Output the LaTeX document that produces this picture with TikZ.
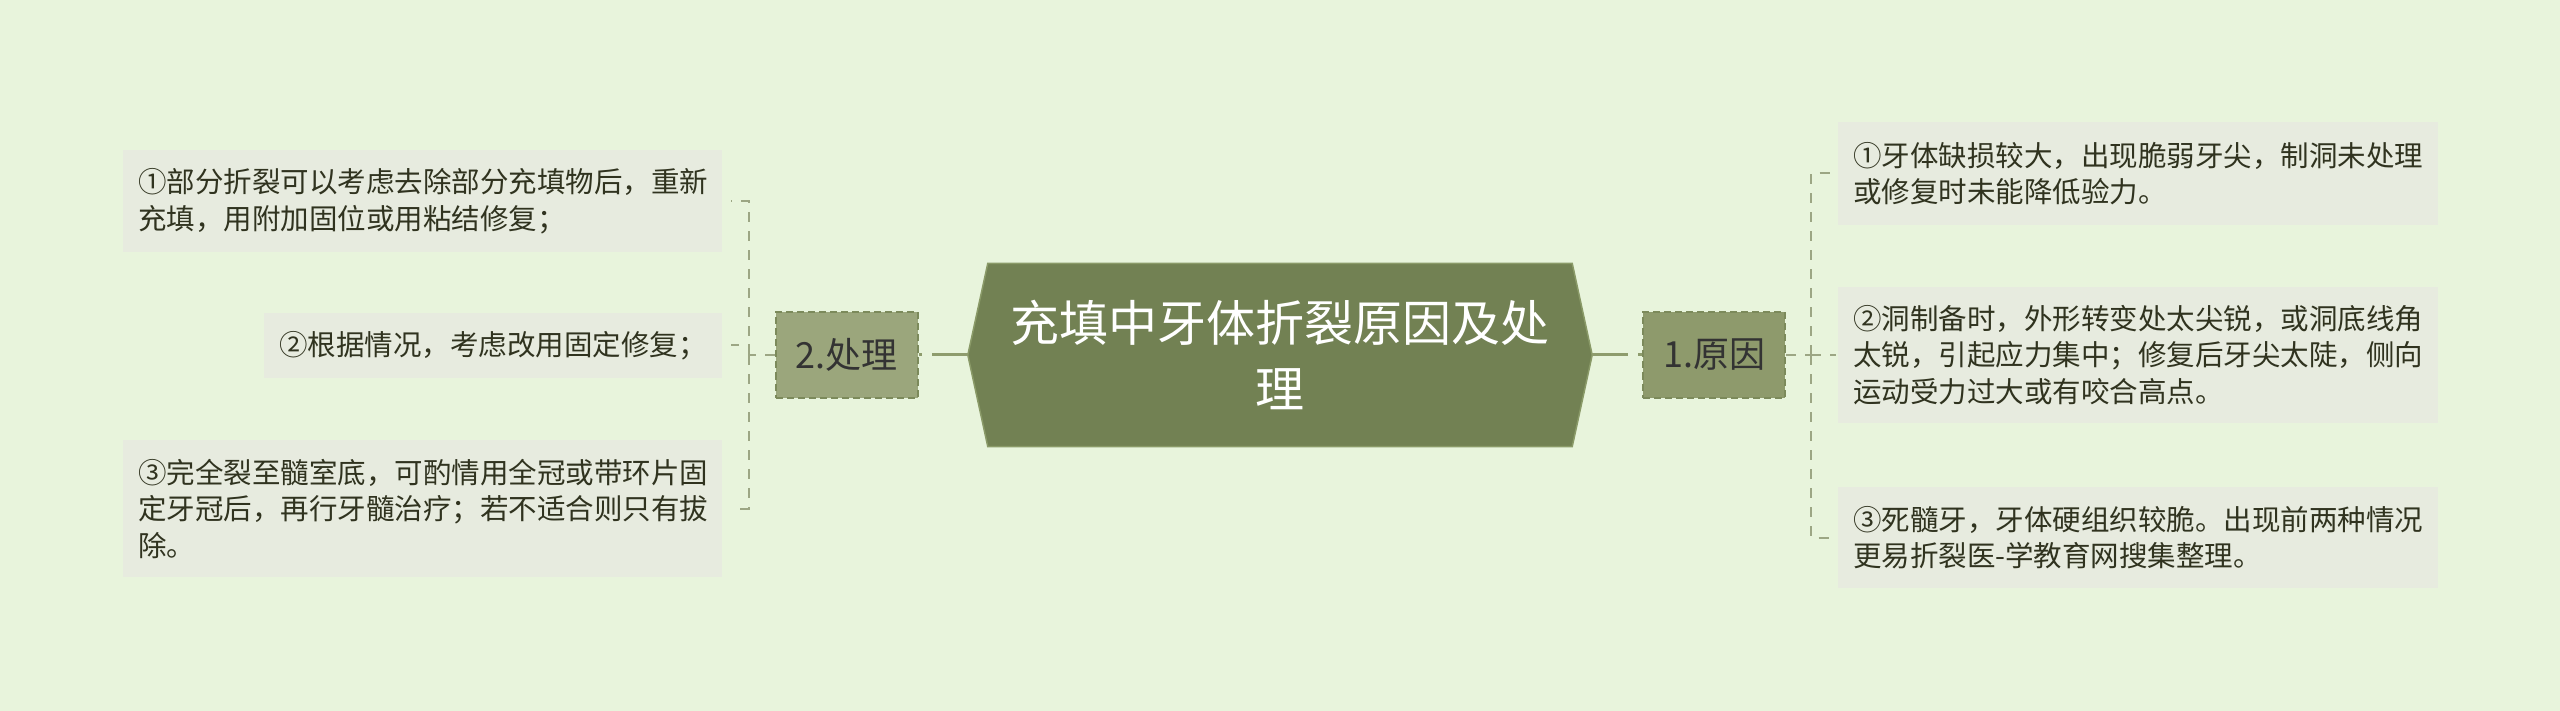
\documentclass[tikz,border=0pt]{standalone}
\usepackage{fontspec}
\setmainfont{Noto Sans CJK SC}
\usetikzlibrary{calc}
\definecolor{bg}{HTML}{E8F4DC}
\definecolor{cfill}{HTML}{728153}
\definecolor{cedge}{HTML}{8A9A68}
\definecolor{lfillA}{HTML}{9BA67C}
\definecolor{lfillB}{HTML}{8E9A6C}
\definecolor{ledge}{HTML}{7C8A5B}
\definecolor{kfill}{HTML}{E7EBDF}
\definecolor{ktext}{HTML}{30331F}
\definecolor{mainline}{HTML}{8E9C6D}
\definecolor{dline}{HTML}{9CA684}
\tikzset{
  central/.style={inner sep=0pt, minimum width=624pt, minimum height=183pt, text=white, align=center, font=\fontsize{49}{66}\selectfont},
  hexfill/.style={fill=cfill, draw=cedge, line width=1.5pt},
  levelbox/.style={draw=ledge, line width=2pt, dash pattern=on 7pt off 4pt, inner sep=0pt, minimum width=142pt, minimum height=85pt, text=black!80, font=\fontsize{36}{40}\selectfont},
  leafbox/.style={fill=kfill, inner xsep=15pt, inner ysep=0pt, align=left, text=ktext, font=\fontsize{28.5}{36.5}\selectfont},
  mainconn/.style={draw=mainline, line width=3pt, dash pattern=on 36pt off 10pt},
  dashconn/.style={draw=dline, line width=2pt, dash pattern=on 10pt off 9pt}
}
\begin{document}
\begin{tikzpicture}[x=1pt,y=-1pt]
\fill[bg] (0,0) rectangle (2560,711);
\useasboundingbox (0,0) rectangle (2560,711);

% central
\node[central] (c) at (1280,355) {};
\path[hexfill] ($(c.north west)+(20,0)$) -- ($(c.north east)+(-20,0)$) -- (c.east)
  -- ($(c.south east)+(-20,0)$) -- ($(c.south west)+(20,0)$) -- (c.west) -- cycle;
\node[central] at (1280,355) {充填中牙体折裂原因及处\\理};

% level 1
\node[levelbox, fill=lfillA] (p2) at (846.5,355) {2.处理};
\node[levelbox, fill=lfillB] (p1) at (1714,355) {1.原因};

% leaves left
\node[leafbox, text width=569pt, minimum height=102pt] (l1) at (422.5,201)
  {①部分折裂可以考虑去除部分充填物后，重新\\充填，用附加固位或用粘结修复；};
\node[leafbox, text width=428pt, minimum height=65pt] (l2) at (493,345.5)
  {②根据情况，考虑改用固定修复；};
\node[leafbox, text width=569pt, minimum height=137pt] (l3) at (422.5,508.5)
  {③完全裂至髓室底，可酌情用全冠或带环片固\\定牙冠后，再行牙髓治疗；若不适合则只有拔\\除。};

% leaves right
\node[leafbox, text width=570pt, minimum height=103pt] (r1) at (2138,173.5)
  {①牙体缺损较大，出现脆弱牙尖，制洞未处理\\或修复时未能降低验力。};
\node[leafbox, text width=570pt, minimum height=136pt] (r2) at (2138,355)
  {②洞制备时，外形转变处太尖锐，或洞底线角\\太锐，引起应力集中；修复后牙尖太陡，侧向\\运动受力过大或有咬合高点。};
\node[leafbox, text width=570pt, minimum height=101pt] (r3) at (2138,537.5)
  {③死髓牙，牙体硬组织较脆。出现前两种情况\\更易折裂医-学教育网搜集整理。};

% connectors main
\draw[mainconn] (c.west) -- (p2.east);
\draw[mainconn] (c.east) -- (p1.west);

% left tree
\draw[dashconn] (p2.west) -- ++(-26,0) coordinate (lj);
\draw[dashconn] (lj) |- ([xshift=9pt]l1.east);
\draw[dashconn] (lj) |- ([xshift=9pt]l2.east);
\draw[dashconn] (lj) |- ([xshift=9pt]l3.east);

% right tree
\draw[dashconn] (p1.east) -- ++(25,0) coordinate (rj);
\draw[dashconn] (rj) |- ([xshift=-2pt]r1.west);
\draw[dashconn] (rj) |- ([xshift=-2pt]r2.west);
\draw[dashconn] (rj) |- ([xshift=-2pt]r3.west);
\end{tikzpicture}
\end{document}
